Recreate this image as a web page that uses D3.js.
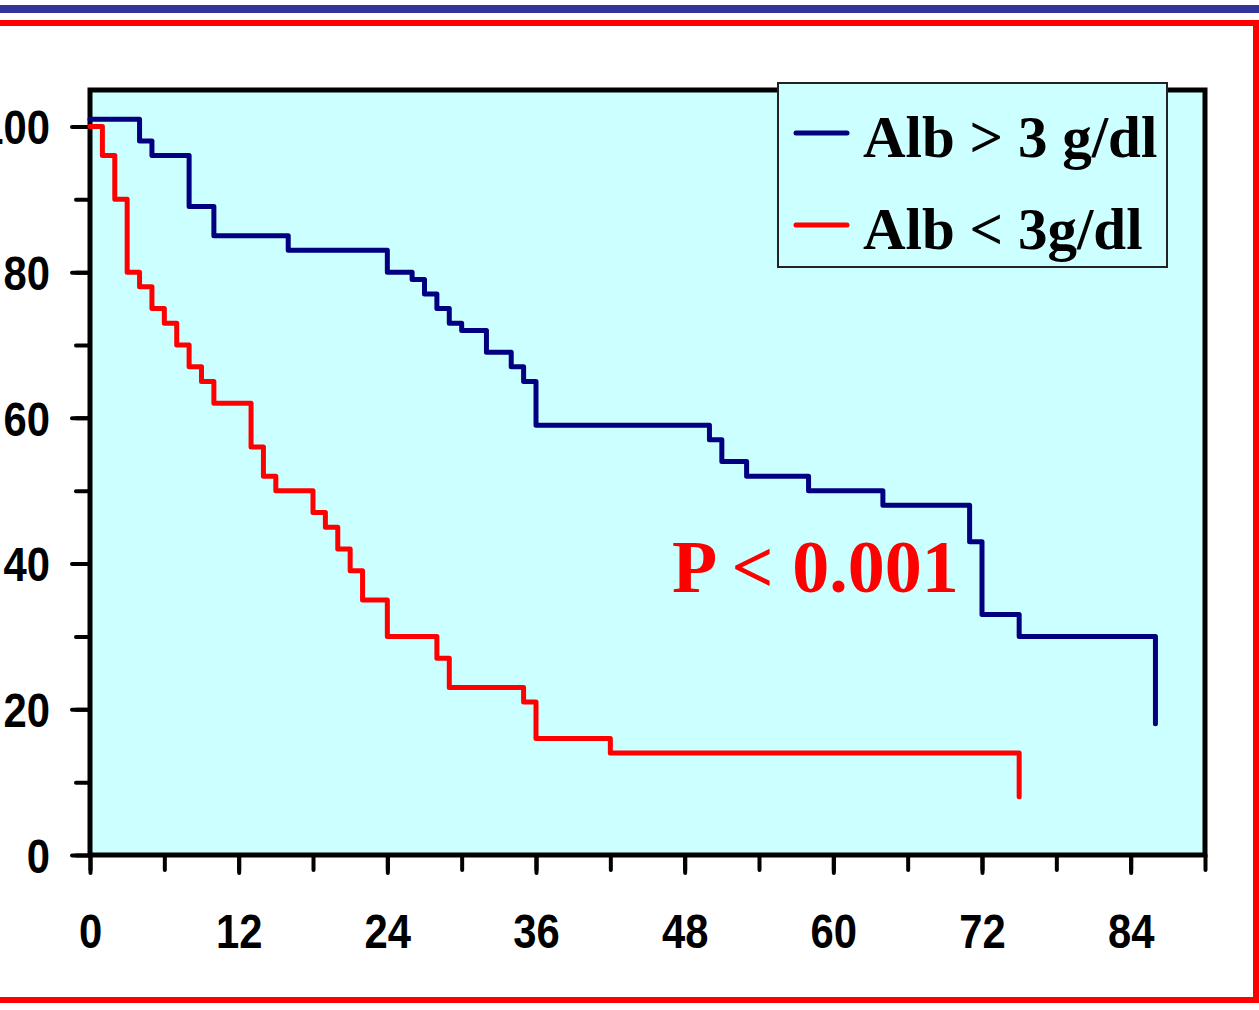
<!DOCTYPE html>
<html>
<head>
<meta charset="utf-8">
<script src="https://cdn.jsdelivr.net/npm/d3@7"></script>
<style>
  body { margin: 0; background: #fff; }
  svg { display: block; }
</style>
</head>
<body>
<div id="chart"></div>
<script>
// Kaplan-Meier steps (months, % surviving)
const highAlbTimes = [0, 4, 5, 8, 10, 16, 24, 26, 27, 28, 29, 30, 32, 34, 35, 36, 50, 51, 53, 58, 64, 71, 72, 75, 86];
const highAlbSurv  = [101, 98, 96, 89, 85, 83, 80, 79, 77, 75, 73, 72, 69, 67, 65, 59, 57, 54, 52, 50, 48, 43, 33, 30, 18];

const lowAlbTimes = [0, 1, 2, 3, 4, 5, 6, 7, 8, 9, 10, 13, 14, 15, 18, 19, 20, 21, 22, 24, 28, 29, 35, 36, 42, 75];
const lowAlbSurv  = [100, 96, 90, 80, 78, 75, 73, 70, 67, 65, 62, 56, 52, 50, 47, 45, 42, 39, 35, 30, 27, 23, 21, 16, 14, 8];

const seriesNames = ["Alb > 3 g/dl", "Alb < 3g/dl"];
const xLabelTicks = [0, 12, 24, 36, 48, 60, 72, 84];
const yLabelTicks = [0, 20, 40, 60, 80, 100];
const pValueText = "P < 0.001";

const width = 1259, height = 1010;
const plot = { left: 90, right: 1205, top: 90, bottom: 855 };

const svg = d3.select("#chart").append("svg")
  .attr("width", width)
  .attr("height", height);

// slide frame: blue bar + red border
svg.append("rect")
  .attr("x", 0).attr("y", 5)
  .attr("width", width).attr("height", 8)
  .attr("fill", "#333399");

svg.append("rect")
  .attr("x", -20).attr("y", 23)
  .attr("width", 1276).attr("height", 977)
  .attr("fill", "none")
  .attr("stroke", "#ff0000")
  .attr("stroke-width", 6);

// scales
const x = d3.scaleLinear().domain([0, 90]).range([plot.left, plot.right]);
const y = d3.scaleLinear().domain([0, 105]).range([plot.bottom, plot.top]);

// plot background
svg.append("rect")
  .attr("x", plot.left).attr("y", plot.top)
  .attr("width", plot.right - plot.left)
  .attr("height", plot.bottom - plot.top)
  .attr("fill", "#ccffff");

// minor ticks
const xMinor = d3.axisBottom(x).tickValues(d3.range(0, 91, 6)).tickSize(15).tickSizeOuter(0).tickFormat("");
const yMinor = d3.axisLeft(y).tickValues(d3.range(0, 101, 10)).tickSize(14).tickSizeOuter(0).tickFormat("");

// major ticks with labels
const xMajor = d3.axisBottom(x).tickValues(xLabelTicks).tickSize(18).tickSizeOuter(0);
const yMajor = d3.axisLeft(y).tickValues(yLabelTicks).tickSize(18).tickSizeOuter(0);

function styleAxis(g) {
  g.select(".domain").remove();
  g.selectAll("line")
    .attr("stroke", "#000")
    .attr("stroke-width", 4)
    .attr("stroke-linecap", "round");
  g.selectAll(".tick text")
    .attr("font-family", "'Liberation Sans', Arial, sans-serif")
    .attr("font-weight", "bold")
    .attr("font-size", 48)
    .attr("fill", "#000");
}

svg.append("g")
  .attr("transform", `translate(0,${plot.bottom})`)
  .call(xMinor).call(styleAxis);

svg.append("g")
  .attr("transform", `translate(0,${plot.bottom})`)
  .call(xMajor).call(styleAxis)
  .selectAll(".tick text")
  .attr("y", 0)
  .attr("dy", 0)
  .attr("transform", "translate(0,93) scale(0.87,1)");

svg.append("g")
  .attr("transform", `translate(${plot.left},0)`)
  .call(yMinor).call(styleAxis);

svg.append("g")
  .attr("transform", `translate(${plot.left},0)`)
  .call(yMajor).call(styleAxis)
  .selectAll(".tick text")
  .attr("x", 0)
  .attr("dy", "0.36em")
  .attr("transform", "translate(-40,0) scale(0.87,1)");

// plot border
svg.append("rect")
  .attr("x", plot.left).attr("y", plot.top)
  .attr("width", plot.right - plot.left)
  .attr("height", plot.bottom - plot.top)
  .attr("fill", "none")
  .attr("stroke", "#000")
  .attr("stroke-width", 5);

// survival curves
const step = d3.line()
  .x(d => x(d[0]))
  .y(d => y(d[1]))
  .curve(d3.curveStepAfter);

const curves = [
  { times: highAlbTimes, surv: highAlbSurv, color: "#000080" },
  { times: lowAlbTimes, surv: lowAlbSurv, color: "#ff0000" }
];

curves.forEach(c => {
  svg.append("path")
    .datum(c.times.map((t, i) => [t, c.surv[i]]))
    .attr("fill", "none")
    .attr("stroke", c.color)
    .attr("stroke-width", 5)
    .attr("stroke-linecap", "round")
    .attr("stroke-linejoin", "round")
    .attr("d", step);
});

// p-value
svg.append("text")
  .attr("x", 672)
  .attr("y", 592)
  .attr("font-family", "'Liberation Serif', 'Times New Roman', serif")
  .attr("font-weight", "bold")
  .attr("font-size", 74)
  .attr("fill", "#ff0000")
  .text(pValueText);

// legend
const legend = svg.append("g").attr("transform", "translate(778,83)");

legend.append("rect")
  .attr("width", 389).attr("height", 184)
  .attr("fill", "#ccffff")
  .attr("stroke", "#222")
  .attr("stroke-width", 2);

seriesNames.forEach((name, i) => {
  const row = legend.append("g").attr("transform", `translate(0,${50 + i * 92})`);
  row.append("line")
    .attr("x1", 18).attr("x2", 69)
    .attr("stroke", curves[i].color)
    .attr("stroke-width", 5)
    .attr("stroke-linecap", "round");
  row.append("text")
    .attr("x", 85)
    .attr("y", 24)
    .attr("font-family", "'Liberation Serif', 'Times New Roman', serif")
    .attr("font-weight", "bold")
    .attr("font-size", 59)
    .attr("fill", "#000")
    .text(name);
});
</script>
</body>
</html>
